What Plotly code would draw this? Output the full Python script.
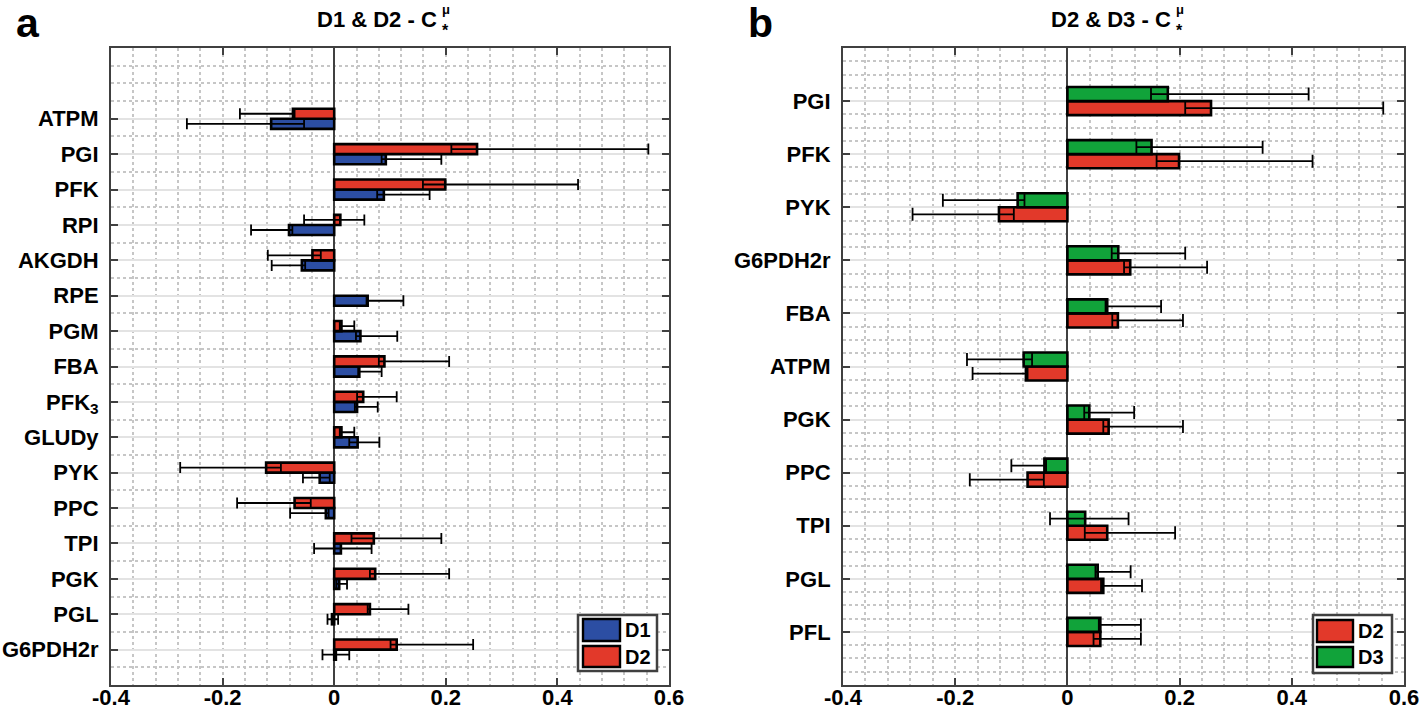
import plotly.graph_objects as go

W, H = 1424, 716

# ---------------- data: panel a (D1 & D2) ----------------
cats_a = ["ATPM", "PGI", "PFK", "RPI", "AKGDH", "RPE", "PGM", "FBA", "PFK<sub>3</sub>",
          "GLUDy", "PYK", "PPC", "TPI", "PGK", "PGL", "G6PDH2r"]
d1_mean = [-0.113, 0.0925, 0.089, -0.081, -0.058, 0.060, 0.047, 0.045, 0.041,
           0.042, -0.026, -0.015, 0.012, 0.009, -0.004, 0.003]
d1_lo = [-0.264, 0.085, 0.077, -0.149, -0.112, 0.058, 0.039, 0.043, 0.037,
         0.027, -0.056, -0.079, -0.036, 0.004, -0.012, -0.021]
d1_hi = [-0.054, 0.192, 0.171, -0.075, -0.052, 0.124, 0.113, 0.085, 0.078,
         0.081, -0.008, -0.010, 0.067, 0.023, 0.007, 0.027]
d2a_mean = [-0.074, 0.256, 0.199, 0.011, -0.039, None, 0.013, 0.090, 0.052,
            0.013, -0.122, -0.071, 0.071, 0.0735, 0.064, 0.112]
d2a_lo = [-0.169, 0.210, 0.159, -0.054, -0.119, None, 0.010, 0.080, 0.041,
          0.010, -0.276, -0.174, 0.031, 0.064, 0.060, 0.101]
d2a_hi = [-0.071, 0.563, 0.437, 0.054, -0.024, None, 0.036, 0.206, 0.112,
          0.036, -0.0955, -0.042, 0.192, 0.206, 0.133, 0.249]

# ---------------- data: panel b (D2 & D3) ----------------
cats_b = ["PGI", "PFK", "PYK", "G6PDH2r", "FBA", "ATPM", "PGK", "PPC", "TPI", "PGL", "PFL"]
d2b_mean = [0.256, 0.199, -0.122, 0.112, 0.090, -0.074, 0.0735, -0.071, 0.071, 0.064, 0.0587]
d2b_lo = [0.210, 0.159, -0.276, 0.101, 0.080, -0.169, 0.064, -0.174, 0.031, 0.060, 0.0466]
d2b_hi = [0.563, 0.437, -0.0955, 0.249, 0.206, -0.071, 0.206, -0.042, 0.192, 0.133, 0.131]
d3_mean = [0.179, 0.150, -0.0887, 0.0907, 0.071, -0.078, 0.039, -0.041, 0.0317, 0.054, 0.0587]
d3_lo = [0.149, 0.123, -0.222, 0.079, 0.068, -0.179, 0.030, -0.0999, -0.031, 0.050, 0.056]
d3_hi = [0.430, 0.348, -0.0765, 0.210, 0.167, -0.063, 0.119, -0.038, 0.109, 0.1127, 0.131]

xtick_vals = [-0.4, -0.2, 0, 0.2, 0.4, 0.6]
xtick_text = ["-0.4", "-0.2", "0", "0.2", "0.4", "0.6"]

BLUE = "#2c4ea3"
RED = "#e2392a"
GREEN = "#11a33a"
AXC = "#404040"
GRIDMAJ = "#e3e3e3"
GRIDMIN = "#c6c6c6"
FONT = "Liberation Sans, Arial, Helvetica, sans-serif"


def px_x(p):
    return p / W


def px_y(p):
    return 1 - p / H


def err(mean, lo, hi):
    plus = [None if m is None else h - m for m, h in zip(mean, hi)]
    minus = [None if m is None else m - l for m, l in zip(mean, lo)]
    return plus, minus


def bar_trace(name, mean, lo, hi, pos, color, width, offset, xa, ya, capw):
    plus, minus = err(mean, lo, hi)
    return go.Bar(
        name=name, orientation="h", x=mean, y=pos, width=width, offset=offset,
        marker=dict(color=color, line=dict(color="black", width=2.6)),
        error_x=dict(type="data", symmetric=False, array=plus, arrayminus=minus,
                     color="black", thickness=1.8, width=capw),
        xaxis=xa, yaxis=ya, showlegend=False, hoverinfo="x+y",
    )


pos_a = [len(cats_a) - i for i in range(len(cats_a))]
pos_b = [len(cats_b) - i for i in range(len(cats_b))]

fig = go.Figure()
fig.add_trace(bar_trace("D1", d1_mean, d1_lo, d1_hi, pos_a, BLUE, 0.285, -0.285, "x", "y", 5.5))
fig.add_trace(bar_trace("D2", d2a_mean, d2a_lo, d2a_hi, pos_a, RED, 0.285, 0.0, "x", "y", 5.5))
fig.add_trace(bar_trace("D2", d2b_mean, d2b_lo, d2b_hi, pos_b, RED, 0.265, -0.265, "x2", "y2", 6.5))
fig.add_trace(bar_trace("D3", d3_mean, d3_lo, d3_hi, pos_b, GREEN, 0.265, 0.0, "x2", "y2", 6.5))

y0, y1 = px_y(685), px_y(48)


def xaxis_cfg(domain):
    return dict(
        domain=domain, range=[-0.4, 0.6], tickmode="array", tickvals=xtick_vals, ticktext=xtick_text,
        ticks="inside", ticklen=7, tickwidth=2, tickcolor=AXC,
        showline=True, linecolor=AXC, linewidth=2, mirror="ticks",
        showgrid=True, gridcolor=GRIDMIN, griddash="dot", gridwidth=1.5,
        zeroline=True, zerolinecolor=AXC, zerolinewidth=1.6,
        minor=dict(tickmode="linear", tick0=0, dtick=0.04, showgrid=True,
                   gridcolor=GRIDMIN, griddash="dot", gridwidth=1.5, ticks=""),
        tickfont=dict(family=FONT, size=22, color="black", weight="bold"),
        ticklabelstandoff=-8,
        fixedrange=True, automargin=False,
    )


def yaxis_cfg(domain, pos, cats, rng, mdt, anchor):
    return dict(
        domain=domain, range=rng, tickmode="array", tickvals=pos, ticktext=cats,
        ticks="inside", ticklen=7, tickwidth=2, tickcolor=AXC,
        showline=True, linecolor=AXC, linewidth=2, mirror="ticks",
        showgrid=True, gridcolor=GRIDMAJ, gridwidth=2,
        zeroline=False, anchor=anchor, ticklabelstandoff=6,
        minor=dict(tickmode="linear", tick0=0, dtick=mdt, showgrid=True,
                   gridcolor=GRIDMIN, griddash="dot", gridwidth=1.5, ticks=""),
        tickfont=dict(family=FONT, size=22, color="black", weight="bold"),
        fixedrange=True, automargin=False,
    )


fig.update_layout(
    width=W, height=H, margin=dict(l=0, r=0, t=0, b=0, autoexpand=False),
    paper_bgcolor="white", plot_bgcolor="white",
    barmode="overlay", showlegend=False,
    font=dict(family=FONT, color="black"),
    xaxis=xaxis_cfg([px_x(111), px_x(669)]) | dict(anchor="y"),
    yaxis=yaxis_cfg([y0, y1], pos_a, cats_a, [0, 18], 0.5, "x"),
    xaxis2=xaxis_cfg([px_x(843), px_x(1404)]) | dict(anchor="y2"),
    yaxis2=yaxis_cfg([y0, y1], pos_b, cats_b, [0, 12], 0.25, "x2"),
)

# titles and panel letters
ann = []
title_font = dict(family=FONT, size=22, color="black", weight="bold")
for cx_right, txt in [(439, "D1 & D2 - C"), (1173, "D2 & D3 - C")]:
    ann.append(dict(x=px_x(cx_right), y=px_y(19), xref="paper", yref="paper", text=txt,
                    showarrow=False, xanchor="right", yanchor="middle", font=title_font))
    ann.append(dict(x=px_x(cx_right + 1), y=px_y(9), xref="paper", yref="paper", text="μ",
                    showarrow=False, xanchor="left", yanchor="middle",
                    font=dict(family=FONT, size=13, color="black", weight="bold")))
    ann.append(dict(x=px_x(cx_right + 1), y=px_y(30), xref="paper", yref="paper", text="*",
                    showarrow=False, xanchor="left", yanchor="middle",
                    font=dict(family=FONT, size=16, color="black", weight="bold")))
for x, letter in [(28, "a"), (760, "b")]:
    ann.append(dict(x=px_x(x), y=px_y(47), xref="paper", yref="paper", text=letter,
                    showarrow=False, xanchor="center", yanchor="bottom", borderpad=0,
                    font=dict(family=FONT, size=41, color="black", weight="bold")))

# legends (drawn boxes)
shapes = []
legends = [
    (578, 657, 615, 671, 583, 620, [("D1", BLUE, 619, 641), ("D2", RED, 646, 667)], 623),
    (1313, 1392, 615, 673, 1317, 1353, [("D2", RED, 620, 642), ("D3", GREEN, 647, 667)], 1356),
]
for bx0, bx1, by0, by1, sx0, sx1, items, tx in legends:
    shapes.append(dict(type="rect", xref="paper", yref="paper",
                       x0=px_x(bx0), x1=px_x(bx1), y0=px_y(by1), y1=px_y(by0),
                       line=dict(color=AXC, width=2.5), fillcolor="white", layer="above"))
    for name, col, iy0, iy1 in items:
        shapes.append(dict(type="rect", xref="paper", yref="paper",
                           x0=px_x(sx0), x1=px_x(sx1), y0=px_y(iy1), y1=px_y(iy0),
                           line=dict(color="black", width=2.4), fillcolor=col, layer="above"))
        ann.append(dict(x=px_x(tx), y=px_y((iy0 + iy1) / 2), xref="paper", yref="paper",
                        text=name, showarrow=False, xanchor="left", yanchor="middle",
                        font=dict(family=FONT, size=20, color="black", weight="bold")))

fig.update_layout(annotations=ann, shapes=shapes)
fig.write_html("out.html", config={"displayModeBar": False},
               post_script="document.body.style.margin='0px';document.body.style.overflow='hidden';")
